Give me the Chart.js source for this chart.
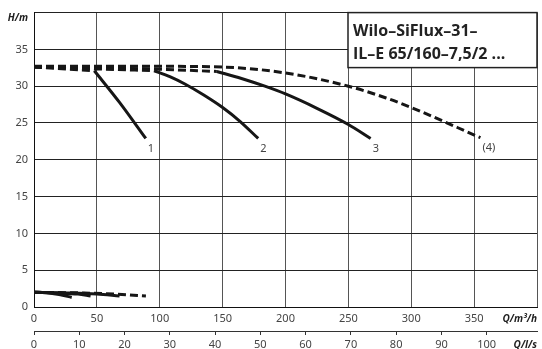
<!DOCTYPE html>
<html>
<head>
<meta charset="utf-8">
<script src="https://cdn.jsdelivr.net/npm/chart.js@4/dist/chart.umd.min.js"></script>
<style>
  body { margin: 0; background: #fff; }
</style>
</head>
<body>
<canvas id="myChart" width="542" height="349"></canvas>
<script>
// pump curves, Q in m³/h, H in m
let curve1Q = [48, 68, 88.9];
let curve1H = [32.1, 27.8, 22.9];
let curve2Q = [95.5, 108, 120, 135, 150, 164, 178.3];
let curve2H = [32.1, 31.3, 30.3, 28.8, 27.1, 25.2, 22.9];
let curve3Q = [145.4, 165, 183.6, 200, 225, 250, 267.7];
let curve3H = [32.0, 31.05, 30.0, 28.95, 27.0, 24.8, 22.9];
let curve4Q = [0, 100, 150, 200, 250, 280, 300, 355];
let curve4H = [32.7, 32.7, 32.6, 31.8, 30.0, 28.4, 27.1, 23.0];

// dashed run-in before the solid curves
let dash1Q = [0, 48];
let dash1H = [32.6, 32.1];
let dash2Q = [0, 50, 95.5];
let dash2H = [32.6, 32.35, 32.1];
let dash3Q = [0, 100, 145.4];
let dash3H = [32.6, 32.3, 32.0];

// lower curves
let low1Q = [0, 10, 20, 30];
let low1H = [2.0, 1.95, 1.7, 1.3];
let low2Q = [0, 20, 35, 45];
let low2H = [2.0, 1.9, 1.75, 1.5];
let low3Q = [0, 30, 50, 68];
let low3H = [2.0, 1.9, 1.75, 1.5];
let low4Q = [0, 40, 70, 89];
let low4H = [2.0, 1.9, 1.7, 1.5];

let curveNames = ['1', '2', '3', '(4)'];
let title1 = 'Wilo\u2013SiFlux\u201331\u2013';
let title2 = 'IL\u2013E 65/160\u20137,5/2 ...';

function pts(q, h) {
    return q.map((x, i) => ({ x: x, y: h[i] }));
}

function line(q, h, dashed) {
    return {
        data: pts(q, h),
        borderColor: '#161616',
        borderWidth: 3,
        borderDash: dashed ? [8, 4] : [],
        pointRadius: 0,
        fill: false,
        cubicInterpolationMode: 'monotone'
    };
}

let tickFont = { family: 'Noto Sans', size: 11 };

let extras = {
    id: 'extras',
    afterDraw(chart) {
        let c = chart.ctx;
        let a = chart.chartArea;
        let xs = chart.scales.x, ys = chart.scales.y, x2 = chart.scales.x2;
        c.save();

        // type box
        let bx = a.right - 189, bw = 189, bh = 55;
        c.fillStyle = '#fff';
        c.fillRect(bx, a.top, bw, bh);
        c.strokeStyle = '#222';
        c.lineWidth = 1.5;
        c.strokeRect(bx, a.top, bw, bh);
        c.fillStyle = '#222';
        c.font = 'bold 16px "Open Sans"';
        c.textBaseline = 'alphabetic';
        c.textAlign = 'left';
        c.fillText(title1, bx + 5, a.top + 23);
        c.fillText(title2, bx + 5, a.top + 46);

        // units
        c.font = 'italic bold 10px "Open Sans"';
        c.textBaseline = 'middle';
        c.textAlign = 'right';
        c.fillText('H/m', 28, a.top + 6);
        c.fillText('Q/m\u00b3/h', a.right, xs.top + 12);
        c.fillText('Q/l/s', a.right, x2.top + 14);

        // curve numbers
        c.font = '11px "Noto Sans"';
        c.fillStyle = '#444';
        c.textAlign = 'left';
        let ends = [[curve1Q, curve1H], [curve2Q, curve2H], [curve3Q, curve3H], [curve4Q, curve4H]];
        ends.forEach((e, i) => {
            let n = e[0].length - 1;
            let px = xs.getPixelForValue(e[0][n]);
            let py = ys.getPixelForValue(e[1][n]);
            c.fillText(curveNames[i], px + 2, py + 10);
        });
        c.restore();
    }
};

let ctx = document.getElementById('myChart');
let myChart = new Chart(ctx, {
    type: 'line',
    data: {
        datasets: [
            line(curve4Q, curve4H, true),
            line(dash1Q, dash1H, true),
            line(dash2Q, dash2H, true),
            line(dash3Q, dash3H, true),
            line(curve1Q, curve1H, false),
            line(curve2Q, curve2H, false),
            line(curve3Q, curve3H, false),
            line(low1Q, low1H, false),
            line(low2Q, low2H, false),
            line(low3Q, low3H, false),
            line(low4Q, low4H, true)
        ]
    },
    options: {
        responsive: false,
        animation: false,
        devicePixelRatio: 1,
        layout: { padding: { top: 11, right: 1, left: 0, bottom: 0 } },
        plugins: {
            legend: { display: false },
            tooltip: { enabled: false }
        },
        scales: {
            x: {
                type: 'linear',
                position: 'bottom',
                weight: 0,
                min: 0,
                max: 400,
                ticks: {
                    stepSize: 50,
                    padding: 5,
                    maxRotation: 0,
                    font: tickFont,
                    color: '#444',
                    callback: v => v === 400 ? '' : v
                },
                grid: { color: '#555', drawTicks: false },
                border: { color: '#111' },
                afterFit: s => { s.height = 24; }
            },
            x2: {
                type: 'linear',
                position: 'bottom',
                weight: 1,
                min: 0,
                max: 400 / 3.6,
                ticks: {
                    stepSize: 10,
                    padding: 3,
                    maxRotation: 0,
                    font: tickFont,
                    color: '#444',
                    callback: v => v >= 110 ? '' : v
                },
                afterBuildTicks: s => { s.ticks = s.ticks.filter(t => t.value % 10 === 0); },
                grid: { drawOnChartArea: false, tickLength: 4, color: '#333' },
                border: { display: true, color: '#333' },
                afterFit: s => { s.height = 18; }
            },
            y: {
                min: 0,
                max: 40,
                ticks: {
                    stepSize: 5,
                    padding: 6,
                    font: tickFont,
                    color: '#444',
                    callback: v => v === 40 ? '' : v
                },
                grid: { color: '#222', drawTicks: false },
                border: { color: '#111' },
                afterFit: s => { s.width = 34; }
            }
        }
    },
    plugins: [extras]
});
</script>
</body>
</html>
